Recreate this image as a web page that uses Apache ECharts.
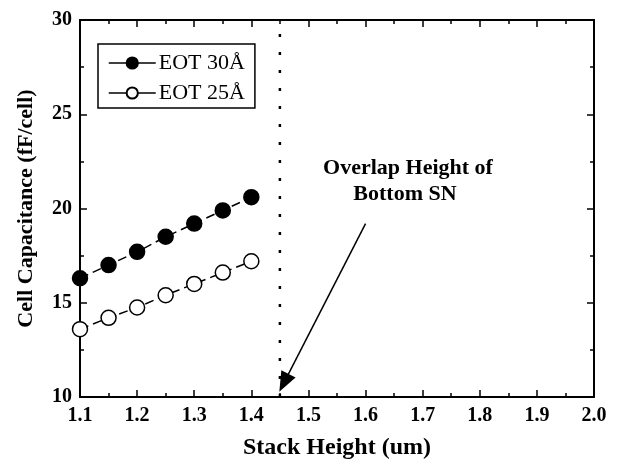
<!DOCTYPE html>
<html><head><meta charset="utf-8">
<script src="https://cdn.jsdelivr.net/npm/echarts@6/dist/echarts.min.js"></script>
<style>html,body{margin:0;padding:0;background:#fff}#c{width:620px;height:465px}</style>
</head><body><div id="c"></div>
<script>
var stackHeight = [1.1, 1.15, 1.2, 1.25, 1.3, 1.35, 1.4];
var eot30 = [16.3, 17.0, 17.7, 18.5, 19.2, 19.9, 20.6];
var eot25 = [13.6, 14.2, 14.75, 15.4, 16.0, 16.6, 17.2];
var seriesNames = ['EOT 30Å', 'EOT 25Å'];
var overlapX = 1.45;
var arrowFrom = [1.6, 19.2];
var arrowTo = [1.457, 10.75];
var annotation = ['Overlap Height of', 'Bottom SN'];
var xTitle = 'Stack Height (um)';
var yTitle = 'Cell Capacitance (fF/cell)';

var F = 'Liberation Serif, Times New Roman, serif';
function pairs(xs, ys){ return xs.map(function(x,i){ return [x, ys[i]]; }); }

var chart = echarts.init(document.getElementById('c'));
var axLine = {show:true, lineStyle:{color:'#000', width:2}};
var tick = {show:true, inside:true, length:7, lineStyle:{color:'#000', width:1.5}};
var minor = {show:true, splitNumber:2, length:4, lineStyle:{color:'#000', width:1.5}};
chart.setOption({
  animation:false,
  backgroundColor:'#fff',
  grid:{left:80, right:26, top:20, bottom:67},
  legend:{
    left:98, top:44, orient:'vertical',
    data:seriesNames,
    borderColor:'#000', borderWidth:1.5, padding:[8,10,4,10],
    itemWidth:47, itemHeight:14, itemGap:8,
    textStyle:{fontFamily:F, fontSize:22, color:'#000', padding:[0,0,0,-2]},
    lineStyle:{type:'solid', width:1.5}
  },
  xAxis:[{
    type:'value', min:1.1, max:2.0, interval:0.1,
    axisLine:axLine, axisTick:tick, minorTick:minor,
    splitLine:{show:false},
    axisLabel:{color:'#000', fontFamily:F, fontWeight:'bold', fontSize:20, margin:9,
      formatter:function(v){return v.toFixed(1);}},
    name:xTitle, nameLocation:'middle', nameGap:39,
    nameTextStyle:{color:'#000', fontFamily:F, fontWeight:'bold', fontSize:24}
  },{
    type:'value', position:'top', min:1.1, max:2.0, interval:0.1,
    axisLine:axLine, axisTick:tick, minorTick:minor,
    splitLine:{show:false}, axisLabel:{show:false}
  }],
  yAxis:[{
    type:'value', min:10, max:30, interval:5,
    axisLine:axLine, axisTick:tick, minorTick:minor,
    splitLine:{show:false},
    axisLabel:{color:'#000', fontFamily:F, fontWeight:'bold', fontSize:20, margin:8},
    name:yTitle, nameLocation:'middle', nameGap:43,
    nameTextStyle:{color:'#000', fontFamily:F, fontWeight:'bold', fontSize:22}
  },{
    type:'value', position:'right', min:10, max:30, interval:5,
    axisLine:axLine, axisTick:tick, minorTick:minor,
    splitLine:{show:false}, axisLabel:{show:false}
  }],
  series:[{
    name:seriesNames[0], type:'line', data:pairs(stackHeight, eot30),
    symbol:'circle', symbolSize:15,
    itemStyle:{color:'#000', borderColor:'#000', borderWidth:1.5},
    lineStyle:{color:'#000', width:1.5, type:[9,5]}
  },{
    name:seriesNames[1], type:'line', data:pairs(stackHeight, eot25),
    symbol:'circle', symbolSize:15,
    itemStyle:{color:'#fff', borderColor:'#000', borderWidth:1.5},
    lineStyle:{color:'#000', width:1.5, type:[9,5]}
  },{
    name:'overlap', type:'line', data:[[overlapX,10],[overlapX,30]],
    symbol:'none', silent:true,
    lineStyle:{color:'#000', width:2.5, type:[3,15]},
    markLine:{
      silent:true, symbol:['none','triangle'], symbolSize:[16,20],
      label:{show:false},
      lineStyle:{color:'#000', width:1.5, type:'solid'},
      data:[[{coord:arrowFrom},{coord:arrowTo}]]
    }
  }],
  graphic:[{
    type:'text', x:408, y:168,
    style:{text:annotation[0], font:'bold 22px '+F, fill:'#000', align:'center', verticalAlign:'middle'}
  },{
    type:'text', x:405, y:194,
    style:{text:annotation[1], font:'bold 22px '+F, fill:'#000', align:'center', verticalAlign:'middle'}
  }]
});
</script></body></html>
